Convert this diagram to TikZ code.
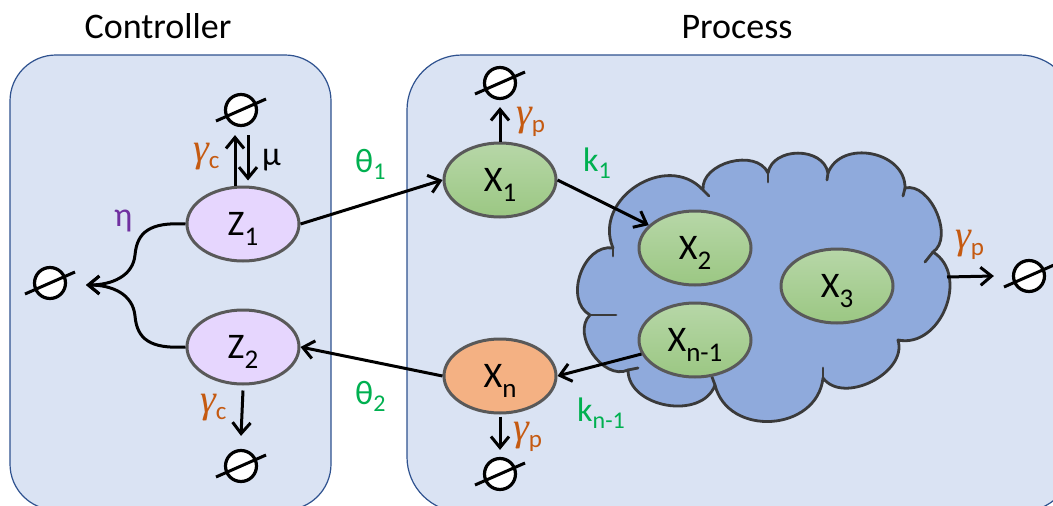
\documentclass[tikz,border=0pt]{standalone}
\usepackage{fontspec}
\setmainfont{Carlito}
\newfontfamily\gfont{Liberation Serif}
\usetikzlibrary{shapes.geometric,arrows.meta,calc}
\definecolor{boxfill}{HTML}{DAE3F3}
\definecolor{boxline}{HTML}{2F528F}
\definecolor{cloudfill}{HTML}{8FAADC}
\definecolor{cloudline}{HTML}{3A3A3A}
\definecolor{gtop}{HTML}{B7D7A8}
\definecolor{gbot}{HTML}{9BC783}
\definecolor{orng}{HTML}{F4B183}
\definecolor{lav}{HTML}{E6D6FE}
\definecolor{ellline}{HTML}{595959}
\definecolor{gam}{HTML}{C55A11}
\definecolor{grn}{HTML}{00B050}
\definecolor{prp}{HTML}{7030A0}
\newcommand\Xsub[1]{\smash{\raisebox{-10pt}{\fontsize{27}{27}\selectfont #1}}}
\newcommand\Lsub[1]{\smash{\raisebox{-7pt}{\fontsize{24}{24}\selectfont #1}}}
\newcommand\Gsub[1]{\smash{\raisebox{-7pt}{\fontsize{25}{25}\selectfont #1}}}
\newcommand\gam{{\fontsize{40}{40}\selectfont\gfont\itshape γ}}
\tikzset{
  every node/.style={inner sep=0pt},
  panel/.style={fill=boxfill, draw=boxline, line width=1.2pt},
  species/.style={ellipse, draw=ellline, line width=3pt, minimum width=112pt, minimum height=74pt, font=\fontsize{36}{40}\selectfont},
  procsp/.style={species, top color=gtop, bottom color=gbot},
  ctrlsp/.style={species, fill=lav},
  outsp/.style={species, fill=orng},
  nullc/.style={circle, draw=black, fill=white, line width=3.2pt, minimum size=31pt},
  nullline/.style={line width=3pt},
  rxn/.style={line width=3pt, -{Straight Barb[length=11pt,width=18pt]}},
  lab/.style={anchor=west, font=\fontsize{34}{36}\selectfont},
  gl/.style={anchor=west, text=gam},
  ttl/.style={anchor=base, font=\fontsize{36}{40}\selectfont},
  cloudsty/.style={fill=cloudfill, draw=cloudline, line width=2.8pt, line join=round},
  tail/.style={draw=cloudline, line width=2.8pt, line cap=round}
}
\begin{document}
\begin{tikzpicture}[x=1pt,y=-1pt]
\clip (0,0) rectangle (1053,506);
\fill[white] (0,0) rectangle (1053,506);
% panels
\draw[panel, rounded corners=46pt] (10,55) rectangle (331,510);
\draw[panel, rounded corners=55pt] (407,55) rectangle (1075,512);
% titles
\node[ttl] (tc) at (158,38) {Controller};
\node[ttl] (tp) at (737,38) {Process};
% cloud
\draw[cloudsty] (613,248)
  to[bend left=80, looseness=1.28] (703,190)
  to[bend left=80, looseness=1.05] (768,173)
  to[bend left=80, looseness=1.15] (828,173)
  to[bend left=80, looseness=1.2] (905,188)
  to[bend left=80, looseness=0.95] (933,252)
  to[bend left=80, looseness=1.18] (898,340)
  to[bend left=80, looseness=1.04] (823,378)
  to[bend left=80, looseness=1.28] (715,385)
  to[bend left=80, looseness=1.1] (628,370)
  to[bend left=80, looseness=1.04] (590,315)
  to[bend left=80, looseness=1.1] (613,248) -- cycle;
\draw[tail] (703,190) -- (709,196);
\draw[tail] (768,173) -- (768,182);
\draw[tail] (828,173) -- (827,180);
\draw[tail] (905,188) -- (903,196);
\draw[tail] (933,252) -- (925,262);
\draw[tail] (823,378) -- (823,368);
\draw[tail] (715,385) -- (712,377);
\draw[tail] (628,370) -- (638,368);
\draw[tail] (590,315) -- (616,315);
\draw[tail] (613,248) -- (613,256);
\coordinate (cloudE) at (947,277);
% species
\node[ctrlsp] (Z1) at (243,224) {Z\Xsub{1}};
\node[ctrlsp] (Z2) at (243,347) {Z\Xsub{2}};
\node[procsp] (X1) at (500,180) {X\Xsub{1}};
\node[procsp] (X2) at (695,248) {X\Xsub{2}};
\node[procsp] (X3) at (837,286) {X\Xsub{3}};
\node[procsp] (Xm) at (695,340) {X\Xsub{n-1}};
\node[outsp] (Xn) at (500,376) {X\Xsub{n}};
% null species
\node[nullc] (n0) at (241,110) {};
\node[nullc] (n1) at (241,466) {};
\node[nullc] (n2) at (50,283) {};
\node[nullc] (n3) at (500,83) {};
\node[nullc] (n4) at (500,474) {};
\node[nullc] (n5) at (1029,276) {};
\foreach \n in {n0,n1,n2,n3,n4,n5}
  \draw[nullline] ($(\n)+(-25,11)$) -- ($(\n)+(25,-11)$);
\coordinate (etaT) at (86,285);
% reactions
\draw[rxn] ([xshift=-8pt]Z1.north) -- ([xshift=-6pt,yshift=-8pt]n0.south);
\draw[rxn] ([xshift=7pt,yshift=-8pt]n0.south) -- ([xshift=5pt,yshift=5pt]Z1.north);
\draw[rxn] ([yshift=-5pt]Z2.south) -- ([yshift=13pt]n1.north);
\draw[rxn] (Z1.west) .. controls (150,222) and (137,232) .. (135,255) .. controls (133,276) and (112,285) .. (etaT);
\draw[rxn] (Z2.west) .. controls (150,349) and (137,339) .. (135,316) .. controls (133,294) and (112,285) .. (etaT);
\draw[rxn] (Z1.east) -- (X1.west);
\draw[rxn] (Xn.west) -- (Z2.east);
\draw[rxn] (X1.north) -- ([yshift=-7pt]n3.south);
\draw[rxn] ([yshift=-2pt]Xn.south) -- ([yshift=7pt]n4.north);
\draw[rxn] (X1.east) -- (X2);
\draw[rxn] (Xm) -- (Xn.east);
\draw[rxn] (cloudE) -- ([xshift=-18pt]n5.west);
% labels
\node[gl] (g1) at (193,157) {\gam\Gsub{c}};
\node[gl] (g2) at (200,408) {\gam\Gsub{c}};
\node[gl] (g3) at (516,121) {\gam\Gsub{p}};
\node[gl] (g4) at (513,436) {\gam\Gsub{p}};
\node[gl] (g5) at (955,244) {\gam\Gsub{p}};
\node[lab] (mu) at (262,160) {μ};
\node[lab, text=prp] (eta) at (114,221) {η};
\node[lab, text=grn] (th1) at (355,161) {θ\Lsub{1}};
\node[lab, text=grn] (th2) at (355,393) {θ\Lsub{2}};
\node[lab, text=grn] (k1) at (583,160) {k\Lsub{1}};
\node[lab, text=grn] (kn) at (577,410) {k\Lsub{n-1}};
\end{tikzpicture}
\end{document}
